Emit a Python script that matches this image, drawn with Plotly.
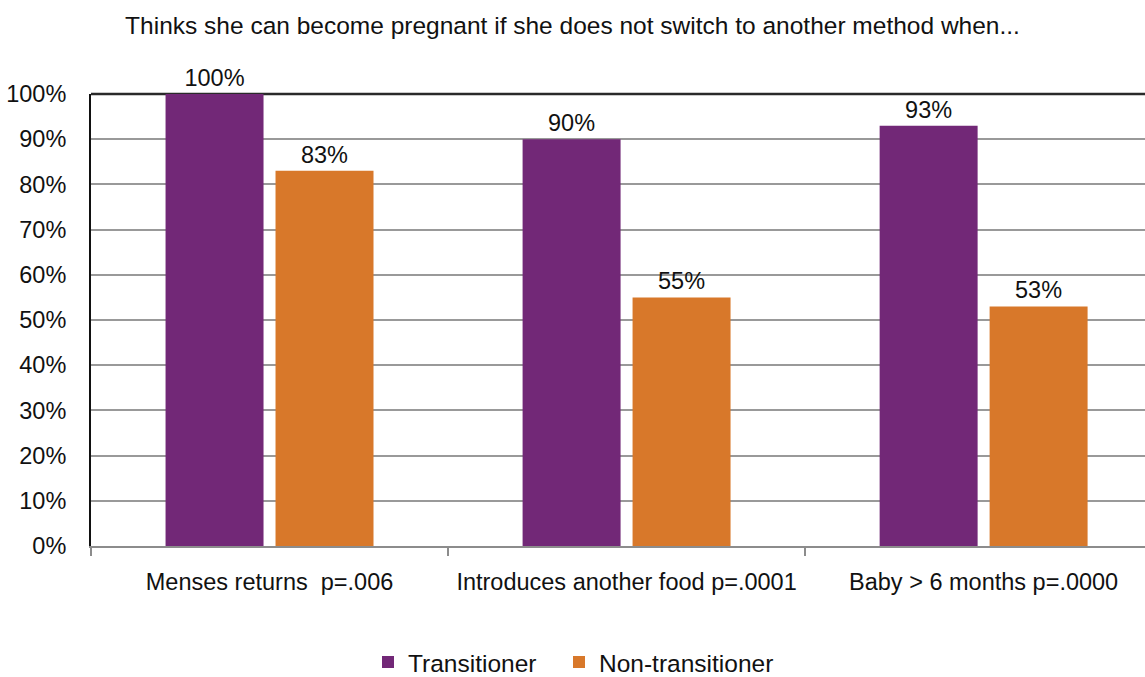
import plotly.graph_objects as go

categories = ["Menses returns  p=.006", "Introduces another food p=.0001", "Baby > 6 months p=.0000"]
transitioner = [100, 90, 93]
non_transitioner = [83, 55, 53]
series_names = ["Transitioner", "Non-transitioner"]
tick_vals = [0, 10, 20, 30, 40, 50, 60, 70, 80, 90, 100]
tick_text = [f"{v}%" for v in tick_vals]
title_text = "Thinks she can become pregnant if she does not switch to another method when..."

FONT = "Liberation Sans, Arial, Helvetica, sans-serif"
PURPLE = "#722877"
ORANGE = "#D8782A"
FS = 23.5

fig = go.Figure()
for name, vals, col, lg in [(series_names[0], transitioner, PURPLE, "legend"),
                            (series_names[1], non_transitioner, ORANGE, "legend2")]:
    fig.add_trace(go.Bar(
        name=name, x=categories, y=vals, marker=dict(color=col, line=dict(width=0)),
        text=[f"{v}%" for v in vals], textposition="outside", cliponaxis=False,
        textfont=dict(size=FS, color="#111111", family=FONT), legend=lg,
    ))

legend_common = dict(orientation="h", xanchor="left", xref="container",
                     y=0.022, yref="container", yanchor="middle",
                     font=dict(size=24.5, family=FONT, color="#111111"),
                     itemwidth=30, bgcolor="rgba(0,0,0,0)")

fig.update_layout(
    width=1145, height=677,
    margin=dict(l=91, r=0, t=94, b=131),
    paper_bgcolor="white", plot_bgcolor="white",
    barmode="group", bargap=0.384, bargroupgap=0.109,
    font=dict(family=FONT, size=FS, color="#111111"),
    title=dict(text=title_text, x=0.5, xref="container", xanchor="center",
               y=0.963, yref="container", yanchor="middle",
               font=dict(size=24.5, family=FONT, color="#111111")),
    legend=dict(x=368 / 1145, **legend_common),
    legend2=dict(x=559 / 1145, **legend_common),
    showlegend=True,
)
fig.update_xaxes(
    type="category", range=[-0.5, 2.452], tickson="boundaries",
    ticks="outside", ticklen=8, tickwidth=1.5, tickcolor="#8c8c8c",
    showline=True, linecolor="#8c8c8c", linewidth=2,
    showgrid=False, ticklabelstandoff=14,
    tickfont=dict(size=FS, family=FONT, color="#111111"),
)
fig.update_yaxes(
    range=[0, 100], tickvals=tick_vals, ticktext=tick_text,
    showgrid=True, gridcolor="#999999", gridwidth=1.5,
    showline=True, linecolor="#111111", linewidth=2,
    ticks="", ticklabelstandoff=18, zeroline=False,
    tickfont=dict(size=FS, family=FONT, color="#111111"),
)
fig.add_shape(type="line", xref="paper", yref="paper", x0=0, x1=1, y0=1, y1=1,
              line=dict(color="#2a2a2a", width=2.5), layer="below")

fig.write_html("out.html")
